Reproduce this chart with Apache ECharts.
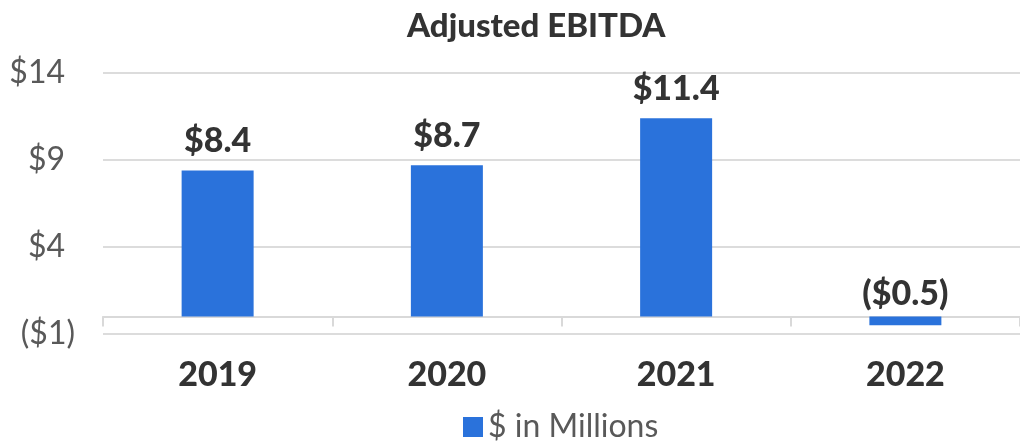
<!DOCTYPE html>
<html>
<head>
<meta charset="utf-8">
<script src="https://cdn.jsdelivr.net/npm/echarts@6/dist/echarts.min.js"></script>
<style>
  html, body { margin: 0; padding: 0; background: #fff; }
  #chart { width: 1020px; height: 443px; }
</style>
</head>
<body>
<div id="chart"></div>
<script>
const years = ["2019", "2020", "2021", "2022"];
const ebitda = [8.4, 8.7, 11.4, -0.5];
const seriesName = "$ in Millions";

const yMin = -1, yMax = 14, yStep = 5;

function money(v) {
    return v < 0 ? "{neg|($" + Math.abs(v) + ")}" : "$" + v;
}

const myChart = echarts.init(document.getElementById("chart"));
const option = {
    animation: false,
    textStyle: { fontFamily: "Lato" },
    title: {
        text: "Adjusted EBITDA",
        left: 402,
        top: 5,
        textStyle: { fontFamily: "Lato", fontWeight: 900, fontSize: 33, color: "#333" },
    },
    legend: {
        bottom: -5,
        left: 458,
        icon: "rect",
        itemWidth: 20,
        itemHeight: 20,
        itemGap: 8,
        textStyle: { fontFamily: "Lato", fontSize: 32, color: "#595959" },
        data: [seriesName],
    },
    grid: { left: 103, width: 920, top: 73, height: 261, containLabel: false },
    xAxis: {
        type: "category",
        data: years,
        axisLine: { lineStyle: { color: "#d9d9d9", width: 2 } },
        axisTick: { show: true, length: 10, lineStyle: { color: "#d9d9d9", width: 2 } },
        axisLabel: {
            margin: 24,
            fontFamily: "Lato",
            fontWeight: 900,
            fontSize: 34,
            color: "#333",
        },
    },
    yAxis: {
        type: "value",
        min: yMin,
        max: yMax,
        interval: yStep,
        axisLine: { show: false },
        axisTick: { show: false },
        splitLine: { lineStyle: { color: "#dcdcdc", width: 2 } },
        axisLabel: {
            margin: 38,
            fontFamily: "Lato",
            fontSize: 32,
            color: "#595959",
            formatter: money,
            rich: {
                neg: { fontFamily: "Lato", fontSize: 32, color: "#595959", padding: [0, -10, 0, 0] },
            },
        },
    },
    series: [
        {
            name: seriesName,
            type: "bar",
            barWidth: 72,
            data: ebitda.map(v => ({
                value: v,
                label: v < 0 ? { position: "insideBottom", offset: [0, -2] } : {},
            })),
            itemStyle: { color: "#2a72db" },
            label: {
                show: true,
                position: "top",
                distance: 12,
                fontFamily: "Lato",
                fontWeight: 900,
                fontSize: 34,
                color: "#333",
                formatter: p => (p.value < 0 ? "($" + Math.abs(p.value).toFixed(1) + ")" : "$" + p.value.toFixed(1)),
            },
        },
    ],
};
option && myChart.setOption(option);
</script>
</body>
</html>
